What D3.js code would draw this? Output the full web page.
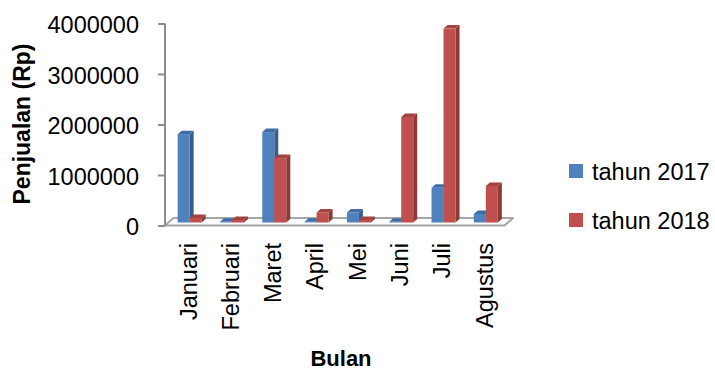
<!DOCTYPE html>
<html>
<head>
<meta charset="utf-8">
<script src="https://cdn.jsdelivr.net/npm/d3@7"></script>
<style>
  html, body { margin: 0; padding: 0; background: #ffffff; }
  svg { display: block; font-family: "Liberation Sans", Arial, sans-serif; }
</style>
</head>
<body>
<svg id="chart" width="715" height="371"></svg>
<script>
// Monthly sales (Rp) for two years
const months = ["Januari", "Februari", "Maret", "April", "Mei", "Juni", "Juli", "Agustus"];
const sales2017 = [1750000, 15000, 1790000, 15000, 200000, 15000, 690000, 170000];
const sales2018 = [90000, 50000, 1275000, 200000, 50000, 2090000, 3840000, 725000];
const seriesNames = ["tahun 2017", "tahun 2018"];
const yTicks = [0, 1000000, 2000000, 3000000, 4000000];

const colors = [
  { front: "#4F81BD", side: "#385E8C", top: "#3F6DA3" },
  { front: "#C0504D", side: "#8B3A38", top: "#A3433F" }
];

const svg = d3.select("#chart");

const x = d3.scaleBand().domain(months).range([165, 503.5]).padding(0);
const y = d3.scaleLinear().domain([0, 4000000]).range([225.5, 23.5]);

// oblique projection: offset of the bar row into the depth, and bar depth
const rowDx = 3.5, rowDy = -3;
const depDx = 4, depDy = -3.5;
const barW = 12;
const floorDx = 8.5, floorDy = -7.5;

// floor
const fl = 165, fr = 504.5, fy = y(0);
svg.append("path")
  .attr("d", `M${fl},${fy} L${fr},${fy} L${fr + floorDx},${fy + floorDy} L${fl + floorDx},${fy + floorDy} Z`)
  .attr("fill", "#ffffff")
  .attr("stroke", "#A6A6A6")
  .attr("stroke-width", 2)
  .attr("stroke-linejoin", "round");

// value axis
const axisG = svg.append("g").attr("transform", "translate(165,0)");
axisG.call(d3.axisLeft(y).tickValues(yTicks).tickFormat(d3.format("d")).tickSize(7).tickPadding(19));
axisG.select(".domain").attr("stroke", "#8C8C8C").attr("stroke-width", 2).attr("d", `M0,${y(4000000)}V${y(0)}`);
axisG.selectAll(".tick line").attr("stroke", "#8C8C8C").attr("stroke-width", 2);
axisG.selectAll(".tick text")
  .attr("font-size", "23.5px")
  .attr("font-family", "'Liberation Sans', Arial, sans-serif")
  .attr("fill", "#000")
  .attr("dy", "0.4em");

// bars (blue before red in every month so the red front covers the blue side)
const bars = [];
months.forEach((m, i) => {
  [sales2017[i], sales2018[i]].forEach((v, s) => bars.push({ m, v, s }));
});

const barG = svg.append("g");
bars.forEach(b => {
  const x0 = x(b.m) + x.bandwidth() / 2 - barW + b.s * barW + rowDx;
  const x1 = x0 + barW;
  const yb = y(0) + rowDy;
  const yt = y(b.v) + rowDy;
  const c = colors[b.s];
  const g = barG.append("g");
  g.append("path")
    .attr("d", `M${x1},${yb} L${x1 + depDx},${yb + depDy} L${x1 + depDx},${yt + depDy} L${x1},${yt} Z`)
    .attr("fill", c.side);
  g.append("path")
    .attr("d", `M${x0},${yt} L${x1},${yt} L${x1 + depDx},${yt + depDy} L${x0 + depDx},${yt + depDy} Z`)
    .attr("fill", c.top);
  g.append("rect")
    .attr("x", x0).attr("y", yt)
    .attr("width", barW).attr("height", Math.max(0, yb - yt))
    .attr("fill", c.front);
});

// month labels
svg.append("g").selectAll("text")
  .data(months)
  .join("text")
  .attr("transform", d => `translate(${x(d) + x.bandwidth() / 2 + 10.4},243) rotate(-90)`)
  .attr("text-anchor", "end")
  .attr("font-size", "23.5px")
  .attr("fill", "#000")
  .text(d => d);

// axis titles
svg.append("text")
  .attr("transform", "translate(29.5,124) rotate(-90)")
  .attr("text-anchor", "middle")
  .attr("font-size", "23px")
  .attr("font-weight", "bold")
  .attr("fill", "#000")
  .text("Penjualan (Rp)");

svg.append("text")
  .attr("x", 341).attr("y", 366)
  .attr("text-anchor", "middle")
  .attr("font-size", "22px")
  .attr("font-weight", "bold")
  .attr("fill", "#000")
  .text("Bulan");

// legend
const legend = svg.append("g").selectAll("g")
  .data(seriesNames)
  .join("g")
  .attr("transform", (d, i) => `translate(569,${164 + i * 49})`);
legend.append("rect")
  .attr("width", 14).attr("height", 14)
  .attr("fill", (d, i) => colors[i].front);
legend.append("text")
  .attr("x", 23).attr("y", 16)
  .attr("font-size", "23.5px")
  .attr("fill", "#000")
  .text(d => d);
</script>
</body>
</html>
